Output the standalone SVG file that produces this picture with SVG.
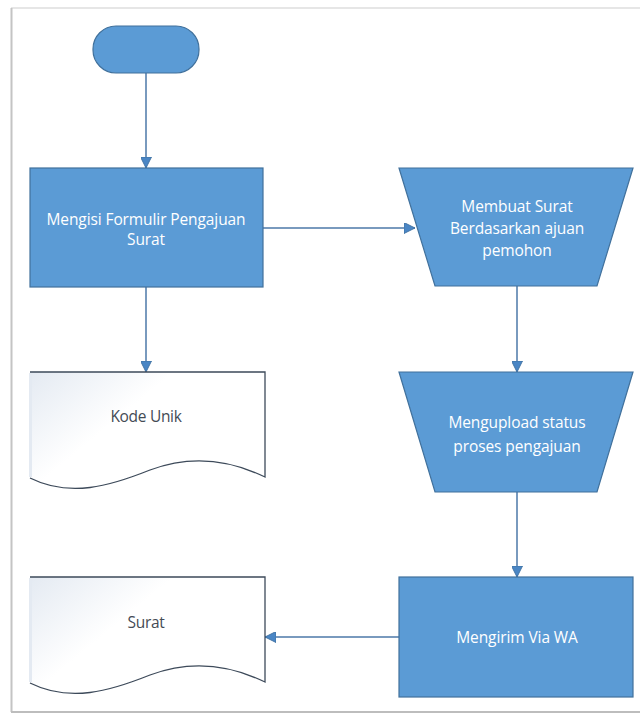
<svg xmlns="http://www.w3.org/2000/svg" width="640" height="717" viewBox="0 0 640 717">
  <defs>
    <style>
      .proc { fill: #5b9bd5; stroke: #41719c; stroke-width: 1.2; }
      .doc { fill: url(#docFill); stroke: #3d4a5a; stroke-width: 1.3; }
      .lbl { font-family: "Open Sans", "Liberation Sans", sans-serif; font-size: 15.5px; fill: #ffffff; text-anchor: middle; letter-spacing: -0.1px; }
      .dlbl { font-family: "Open Sans", "Liberation Sans", sans-serif; font-size: 15.5px; fill: #444b55; text-anchor: middle; letter-spacing: -0.3px; }
      .conn { fill: none; stroke: #4d78a8; stroke-width: 1.5; }
    </style>
    <linearGradient id="docFill" x1="0" y1="0" x2="1" y2="0.6">
      <stop offset="0" stop-color="#e4eaf2"/>
      <stop offset="0.45" stop-color="#ffffff"/>
      <stop offset="1" stop-color="#ffffff"/>
    </linearGradient>
    <marker id="arrow" viewBox="0 0 10 10" refX="10" refY="5" markerWidth="11" markerHeight="11" markerUnits="userSpaceOnUse" orient="auto">
      <path d="M0,0 L10,5 L0,10 Z" fill="#4a86c5" stroke="#3f6f9f" stroke-width="0.8"/>
    </marker>
  </defs>

  <!-- page background and frame -->
  <rect x="0" y="0" width="640" height="717" fill="#ffffff"/>
  <line x1="11" y1="8" x2="640" y2="8" stroke="#e6e6e6" stroke-width="2"/>
  <line x1="11.5" y1="8" x2="11.5" y2="712" stroke="#c4c4c4" stroke-width="2"/>
  <line x1="11" y1="712" x2="640" y2="712" stroke="#bdbdbd" stroke-width="2"/>

  <!-- connectors -->
  <g id="connectors">
    <line class="conn" x1="146" y1="73" x2="146" y2="168" marker-end="url(#arrow)"/>
    <line class="conn" x1="263" y1="228" x2="415" y2="228" marker-end="url(#arrow)"/>
    <line class="conn" x1="146" y1="287" x2="146" y2="372" marker-end="url(#arrow)"/>
    <line class="conn" x1="517" y1="286" x2="517" y2="372" marker-end="url(#arrow)"/>
    <line class="conn" x1="517" y1="492" x2="517" y2="577" marker-end="url(#arrow)"/>
    <line class="conn" x1="399" y1="637" x2="265" y2="637" marker-end="url(#arrow)"/>
  </g>

  <!-- start terminator -->
  <g id="start">
    <rect class="proc" x="93" y="26" width="106" height="47" rx="23" ry="23" stroke="#2f5f8f"/>
  </g>

  <!-- fill in request form -->
  <g id="isi-formulir">
    <rect class="proc" x="30" y="168" width="233" height="119"/>
    <text class="lbl" x="146" y="225">Mengisi Formulir Pengajuan</text>
    <text class="lbl" x="146" y="245">Surat</text>
  </g>

  <!-- make letter (manual operation) -->
  <g id="membuat-surat">
    <polygon class="proc" points="399,168 633,168 597,286 435,286"/>
    <text class="lbl" x="517" y="212">Membuat Surat</text>
    <text class="lbl" x="517" y="234">Berdasarkan ajuan</text>
    <text class="lbl" x="517" y="256">pemohon</text>
  </g>

  <!-- unique code document -->
  <g id="kode-unik">
    <path class="doc" d="M30,372 L265,372 L265,477 C230,460 190,455 150,470 C110,486 70,498 30,478" />
    <rect x="29" y="373" width="3" height="104" fill="#e4eaf2"/>
    <text class="dlbl" x="146" y="422">Kode Unik</text>
  </g>

  <!-- upload status (manual operation) -->
  <g id="upload-status">
    <polygon class="proc" points="399,372 633,372 597,492 435,492"/>
    <text class="lbl" x="517" y="428">Mengupload status</text>
    <text class="lbl" x="517" y="452">proses pengajuan</text>
  </g>

  <!-- letter document -->
  <g id="surat">
    <path class="doc" d="M30,577 L265,577 L265,682 C230,665 190,660 150,675 C110,691 70,703 30,683" />
    <rect x="29" y="578" width="3" height="104" fill="#e4eaf2"/>
    <text class="dlbl" x="146" y="628">Surat</text>
  </g>

  <!-- send via WhatsApp -->
  <g id="kirim-wa">
    <rect class="proc" x="399" y="577" width="234" height="120"/>
    <text class="lbl" x="517" y="643">Mengirim Via WA</text>
  </g>
</svg>
